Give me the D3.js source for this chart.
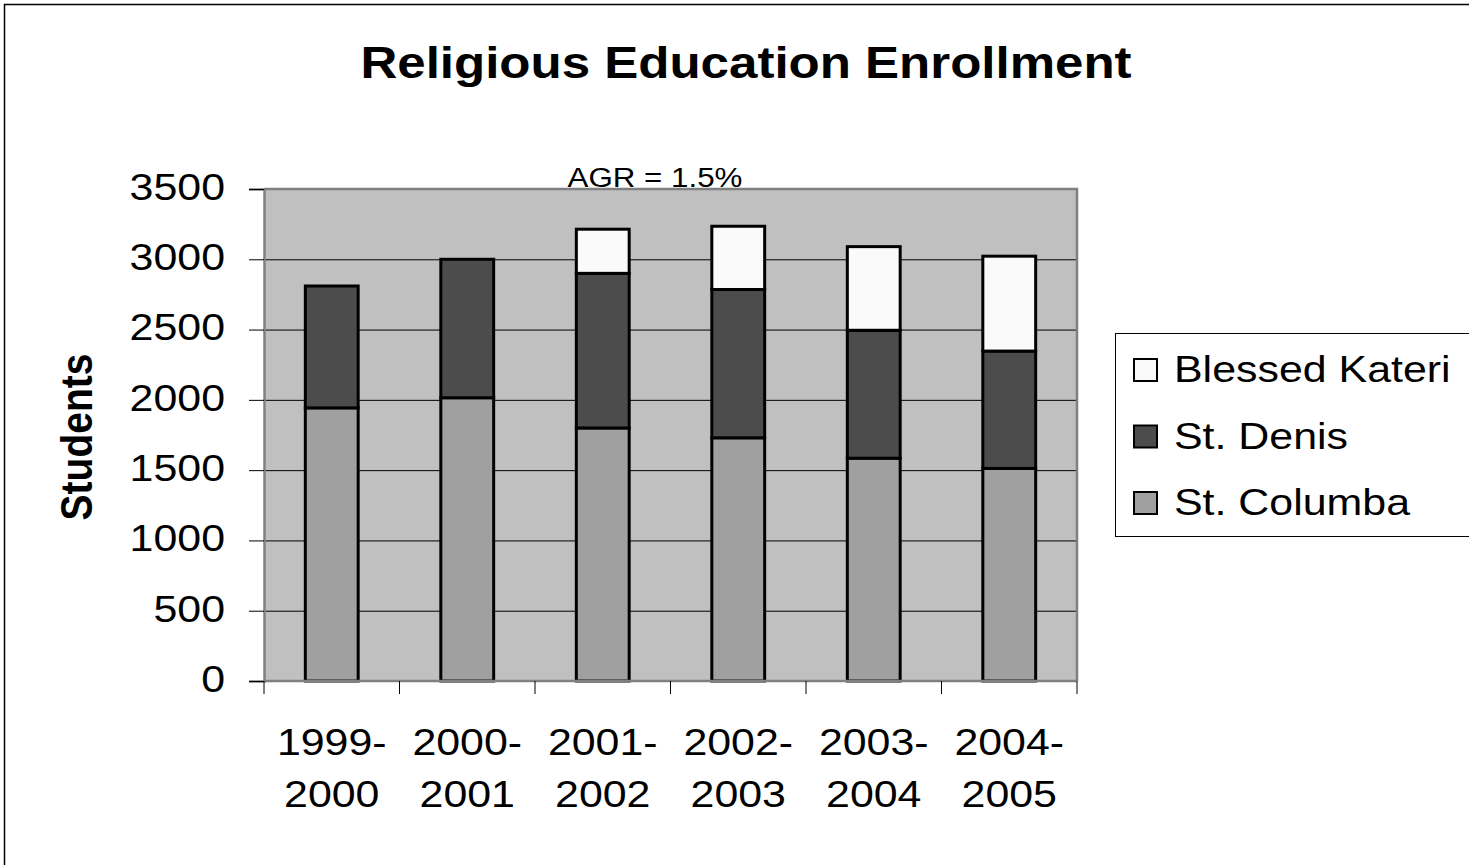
<!DOCTYPE html>
<html>
<head>
<meta charset="utf-8">
<script src="https://cdn.jsdelivr.net/npm/d3@7/dist/d3.min.js"></script>
<style>
  html, body { margin: 0; padding: 0; background: #fff; }
  svg { display: block; font-family: Arial, "Liberation Sans", sans-serif; }
</style>
</head>
<body>
<svg id="chart" width="1469" height="865"></svg>
<script>
const years = ["1999-2000", "2000-2001", "2001-2002", "2002-2003", "2003-2004", "2004-2005"];
const yearLines = [["1999-", "2000"], ["2000-", "2001"], ["2001-", "2002"], ["2002-", "2003"], ["2003-", "2004"], ["2004-", "2005"]];
const stColumba = [1943, 2015, 1800, 1730, 1585, 1512];
const stDenis = [867, 985, 1100, 1055, 910, 835];
const blessedKateri = [0, 0, 314, 450, 595, 675];
const seriesNames = ["St. Columba", "St. Denis", "Blessed Kateri"];
const yTicks = [0, 500, 1000, 1500, 2000, 2500, 3000, 3500];

const COLORS = {
  "St. Columba": "#a0a0a0",
  "St. Denis": "#4c4c4c",
  "Blessed Kateri": "#fafafa",
};
const SX = 1.16; // the original text is stretched sideways a little

const svg = d3.select("#chart");

// outer chart border (right and bottom edges run off the picture)
svg.append("rect")
  .attr("x", 4.5).attr("y", 4.5)
  .attr("width", 1600).attr("height", 1000)
  .attr("fill", "none").attr("stroke", "#000").attr("stroke-width", 1.5);

const plot = { left: 264, right: 1077, top: 189, bottom: 681 };

const x = d3.scaleBand().domain(years).range([plot.left, plot.right]).padding(0);
const y = d3.scaleLinear().domain([0, 3500]).range([plot.bottom, plot.top]);
const barW = x.bandwidth() * 0.39;

const rows = years.map((yr, i) => ({
  year: yr,
  "St. Columba": stColumba[i],
  "St. Denis": stDenis[i],
  "Blessed Kateri": blessedKateri[i],
}));
const stacked = d3.stack().keys(seriesNames)(rows);

// plot background
svg.append("rect")
  .attr("x", plot.left).attr("y", plot.top)
  .attr("width", plot.right - plot.left).attr("height", plot.bottom - plot.top)
  .attr("fill", "#c0c0c0");

// gridlines
svg.append("g")
  .selectAll("line")
  .data(yTicks.filter(t => t > 0 && t < 3500))
  .join("line")
  .attr("x1", plot.left).attr("x2", plot.right)
  .attr("y1", d => y(d) + 0.5).attr("y2", d => y(d) + 0.5)
  .attr("stroke", "#000").attr("stroke-width", 1);

// plot border (top/right)
svg.append("path")
  .attr("d", `M${plot.left},${plot.top} H${plot.right} V${plot.bottom}`)
  .attr("fill", "none").attr("stroke", "#808080").attr("stroke-width", 2.5);

// bars
svg.append("g")
  .selectAll("g")
  .data(stacked)
  .join("g")
  .attr("fill", d => COLORS[d.key])
  .selectAll("rect")
  .data(d => d.filter(s => s[1] - s[0] > 0).map(s => ({ s, year: s.data.year })))
  .join("rect")
  .attr("x", d => x(d.year) + (x.bandwidth() - barW) / 2)
  .attr("y", d => y(d.s[1]))
  .attr("width", barW)
  .attr("height", d => y(d.s[0]) - y(d.s[1]))
  .attr("stroke", "#000")
  .attr("stroke-width", 3);

// y axis
const yAxis = svg.append("g")
  .attr("transform", `translate(${plot.left},0)`)
  .call(d3.axisLeft(y)
    .tickValues(yTicks)
    .tickFormat(d3.format("d"))
    .tickSize(15)
    .tickPadding(39 / SX - 15));
yAxis.select(".domain").attr("stroke", "#808080").attr("stroke-width", 2.5);
yAxis.selectAll(".tick line").attr("stroke", "#000").attr("stroke-width", 1);
yAxis.selectAll(".tick text")
  .attr("transform", `scale(${SX},1)`)
  .attr("dy", "0.28em")
  .attr("font-size", 37)
  .attr("font-family", "Arial, 'Liberation Sans', sans-serif")
  .attr("fill", "#000");

// x axis line and ticks
svg.append("line")
  .attr("x1", plot.left).attr("x2", plot.right)
  .attr("y1", plot.bottom).attr("y2", plot.bottom)
  .attr("stroke", "#808080").attr("stroke-width", 2.5);
const xEdges = years.map(c => x(c)).concat([x(years[years.length - 1]) + x.bandwidth()]);
svg.append("g")
  .selectAll("line")
  .data(xEdges)
  .join("line")
  .attr("x1", d => d).attr("x2", d => d)
  .attr("y1", plot.bottom).attr("y2", plot.bottom + 13)
  .attr("stroke", "#000").attr("stroke-width", 1);

// x labels (two lines each)
const xLab = svg.append("g")
  .selectAll("text")
  .data(years)
  .join("text")
  .attr("transform", d => `translate(${x(d) + x.bandwidth() / 2},755) scale(${SX},1)`)
  .attr("text-anchor", "middle")
  .attr("font-size", 37)
  .attr("fill", "#000");
xLab.each(function(d, i) {
  const t = d3.select(this);
  t.append("tspan").attr("x", 0).attr("y", 0).text(yearLines[i][0]);
  t.append("tspan").attr("x", 0).attr("y", 52).text(yearLines[i][1]);
});

// title
svg.append("text")
  .attr("transform", `translate(746,78) scale(${SX},1)`)
  .attr("text-anchor", "middle")
  .attr("font-size", 44)
  .attr("font-weight", "bold")
  .attr("fill", "#000")
  .text("Religious Education Enrollment");

// y axis title
svg.append("text")
  .attr("transform", `translate(92,437) scale(${SX},1) rotate(-90)`)
  .attr("text-anchor", "middle")
  .attr("font-size", 39)
  .attr("font-weight", "bold")
  .attr("fill", "#000")
  .text("Students");

// annotation
svg.append("text")
  .attr("transform", `translate(655,187) scale(${SX},1)`)
  .attr("text-anchor", "middle")
  .attr("font-size", 27)
  .attr("fill", "#000")
  .text("AGR = 1.5%");

// legend
const legend = svg.append("g");
legend.append("rect")
  .attr("x", 1115.5).attr("y", 333.5)
  .attr("width", 400).attr("height", 203)
  .attr("fill", "#fff").attr("stroke", "#000").attr("stroke-width", 1);
const legendOrder = ["Blessed Kateri", "St. Denis", "St. Columba"];
const item = legend.selectAll("g.item")
  .data(legendOrder)
  .join("g")
  .attr("class", "item")
  .attr("transform", (d, i) => `translate(0,${382 + i * 66.5})`);
item.append("rect")
  .attr("x", 1134).attr("y", -23)
  .attr("width", 23).attr("height", 22)
  .attr("fill", d => COLORS[d])
  .attr("stroke", "#000").attr("stroke-width", 2);
item.append("text")
  .attr("transform", `translate(1174,0) scale(${SX},1)`)
  .attr("font-size", 37)
  .attr("fill", "#000")
  .text(d => d);
</script>
</body>
</html>
